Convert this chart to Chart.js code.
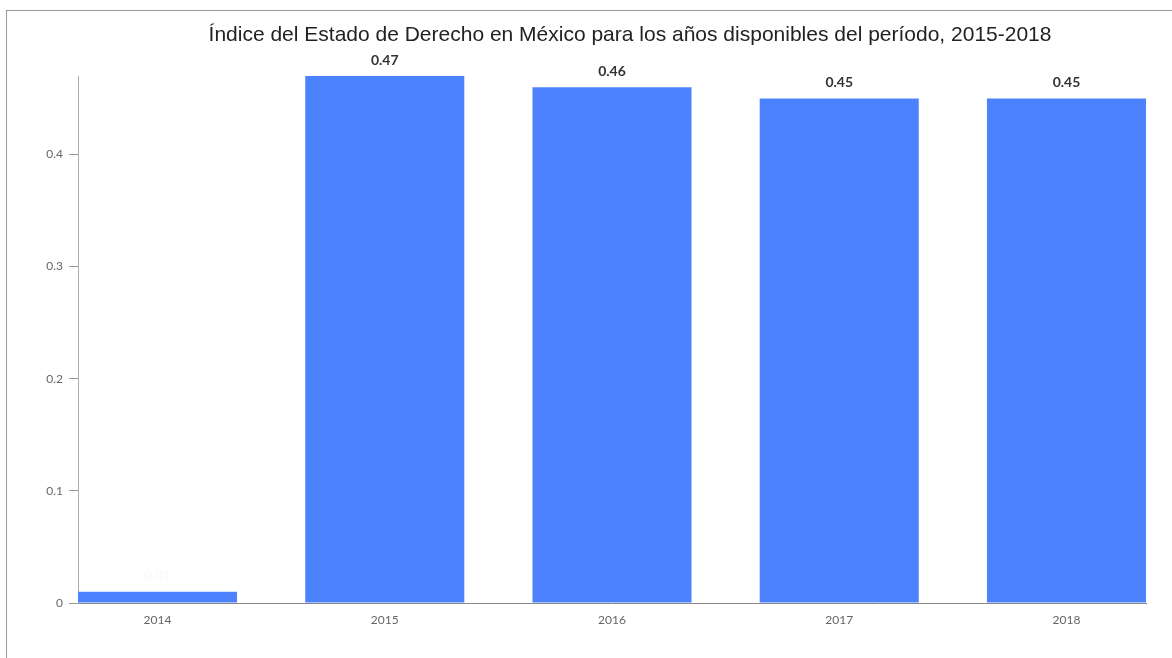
<!DOCTYPE html>
<html>
<head>
<meta charset="utf-8">
<script src="https://cdn.jsdelivr.net/npm/chart.js@4/dist/chart.umd.min.js"></script>
<style>
    html, body { margin: 0; padding: 0; background: #fff; }
    #frame {
        position: absolute;
        left: 6px;
        top: 10px;
        width: 1166px;
        height: 648px;
        border-top: 1px solid #999;
        border-left: 1px solid #999;
    }
    #wrap { position: absolute; left: 0; top: 0; width: 1172px; height: 658px; }
</style>
</head>
<body>
<div id="frame"></div>
<div id="wrap"><canvas id="rolChart" width="1172" height="658"></canvas></div>
<script>
    var chartTitle = 'Índice del Estado de Derecho en México para los años disponibles del período, 2015-2018';
    var years = ['2014', '2015', '2016', '2017', '2018'];
    var indexValues = [0.01, 0.47, 0.46, 0.45, 0.45];
    var labelColors = ['#fafafa', '#333333', '#333333', '#333333', '#333333'];
    var yTicks = [0, 0.1, 0.2, 0.3, 0.4];

    // bars sit flush with both ends of the axis
    var barShare = 0.70;
    var points = indexValues.map(function (v, i) { return { x: i, y: v }; });

    // value on top of every bar, and the title
    var barValues = {
        id: 'barValues',
        afterDatasetsDraw: function (chart) {
            var ctx = chart.ctx;
            var meta = chart.getDatasetMeta(0);
            ctx.save();
            ctx.font = 'bold 14px Lato';
            ctx.textAlign = 'center';
            ctx.textBaseline = 'middle';
            meta.data.forEach(function (bar, i) {
                ctx.fillStyle = labelColors[i];
                ctx.fillText(indexValues[i].toFixed(2), bar.x, bar.y - 16);
            });
            ctx.font = '21px "Liberation Sans"';
            ctx.fillStyle = '#222';
            ctx.fillText(chartTitle, 630, 35);
            ctx.restore();
        }
    };

    var ctx = document.getElementById('rolChart').getContext('2d');
    var chart = new Chart(ctx, {
        type: 'bar',
        data: {
            datasets: [{
                label: 'Índice',
                data: points,
                backgroundColor: '#4d82ff',
                borderWidth: 0,
                categoryPercentage: 1,
                barPercentage: barShare
            }]
        },
        options: {
            responsive: false,
            animation: false,
            layout: {
                padding: { left: 0, right: 26, top: 76, bottom: 0 }
            },
            plugins: {
                legend: { display: false },
                tooltip: { enabled: false },
                title: { display: false }
            },
            scales: {
                x: {
                    type: 'linear',
                    offset: false,
                    min: -barShare / 2,
                    max: years.length - 1 + barShare / 2,
                    afterBuildTicks: function (scale) {
                        scale.ticks = years.map(function (y, i) { return { value: i }; });
                    },
                    grid: { display: false },
                    border: { display: true, color: '#888', width: 1 },
                    ticks: {
                        color: '#666',
                        font: { family: 'Lato', size: 12 },
                        padding: 2,
                        callback: function (v) { return years[v]; }
                    },
                    afterFit: function (scale) { scale.height = 55; }
                },
                y: {
                    min: 0,
                    max: 0.47,
                    afterBuildTicks: function (scale) {
                        scale.ticks = yTicks.map(function (v) { return { value: v }; });
                    },
                    grid: {
                        drawOnChartArea: false,
                        drawTicks: true,
                        tickLength: 9,
                        color: '#999'
                    },
                    border: { display: true, color: '#aaa', width: 1 },
                    ticks: {
                        color: '#666',
                        font: { family: 'Lato', size: 12 },
                        padding: 6,
                        callback: function (v) { return v === 0 ? '0' : v.toFixed(1); }
                    },
                    afterFit: function (scale) { scale.width = 78; }
                }
            }
        },
        plugins: [barValues]
    });
</script>
</body>
</html>
